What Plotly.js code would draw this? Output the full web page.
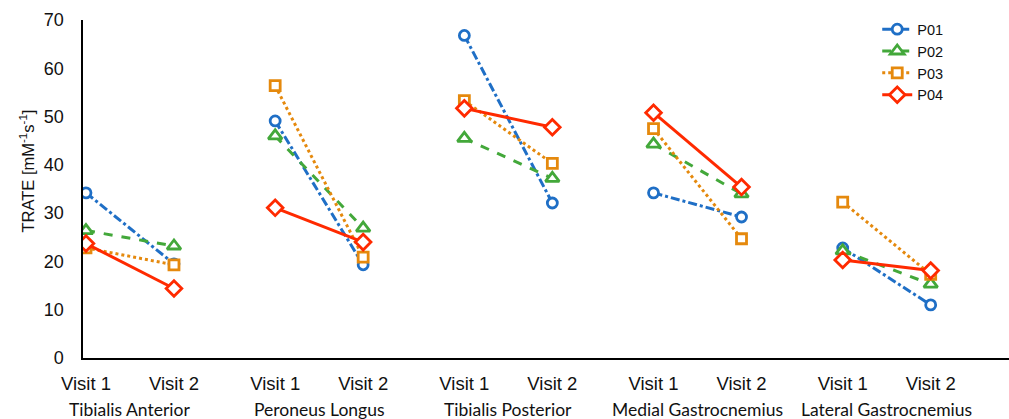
<!DOCTYPE html>
<html>
<head>
<meta charset="utf-8">
<script src="https://cdn.plot.ly/plotly-3.0.1.min.js"></script>
<style>
  html, body { margin: 0; padding: 0; background: #fff; }
  #chart { width: 1009px; height: 419px; }
</style>
</head>
<body>
<div id="chart"></div>
<script>
// Muscles and visits
const muscles = ['Tibialis Anterior', 'Peroneus Longus', 'Tibialis Posterior', 'Medial Gastrocnemius', 'Lateral Gastrocnemius'];
const visits = ['Visit 1', 'Visit 2'];
const participants = ['P01', 'P02', 'P03', 'P04'];
const yTitle = 'TRATE [mM<sup>-1</sup>s<sup>-1</sup>]';

// TRATE [mM^-1 s^-1] per muscle: [Visit 1, Visit 2]
const p01 = [[34.2, 19.5], [49.1, 19.3], [66.8, 32.1], [34.2, 29.2], [22.8, 11.0]];
const p02 = [[26.4, 23.2], [46.0, 26.9], [45.5, 37.2], [44.3, 34.0], [22.2, 15.3]];
const p03 = [[22.8, 19.3], [56.4, 20.9], [53.3, 40.3], [47.5, 24.7], [32.3, 17.3]];
const p04 = [[23.7, 14.4], [31.1, 24.0], [51.7, 47.8], [50.8, 35.4], [20.3, 18.1]];

const seriesValues = [p01, p02, p03, p04];
const colors = ['#1f6fc6', '#43a83a', '#e5890d', '#ff2a00'];
const dashes = ['dashdot', 'dash', 'dot', 'solid'];
const symbols = ['circle', 'triangle-up', 'square', 'diamond'];
const markerSizes = [10, 12, 10, 12];

// horizontal layout of the grouped visits
const groupStep = 2.15;
const xOf = (g, v) => g * groupStep + v;

const traces = seriesValues.map((vals, i) => {
  const x = [], y = [];
  vals.forEach((pair, g) => {
    pair.forEach((val, v) => { x.push(xOf(g, v)); y.push(val); });
    if (g < vals.length - 1) { x.push(null); y.push(null); }
  });
  return {
    type: 'scatter', mode: 'lines+markers', name: participants[i],
    x, y, connectgaps: false,
    line: { color: colors[i], width: 3, dash: dashes[i] },
    marker: { symbol: symbols[i], size: markerSizes[i], color: '#ffffff',
              line: { color: colors[i], width: 2.8 } }
  };
});

const tickvals = [], ticktext = [];
muscles.forEach((m, g) => visits.forEach((v, k) => { tickvals.push(xOf(g, k)); ticktext.push(v); }));

const annotations = muscles.map((m, g) => ({
  text: m, xref: 'x', yref: 'paper', x: xOf(g, 0.5), y: -0.151,
  xanchor: 'center', yanchor: 'middle', showarrow: false,
  font: { family: 'Lato, sans-serif', size: 17.5, color: '#111' }
}));
annotations.push({
  text: yTitle, xref: 'paper', yref: 'paper', x: -0.06, y: 0.553,
  xanchor: 'center', yanchor: 'middle', textangle: -90, showarrow: false,
  font: { size: 16.5, color: '#111' }
});

const layout = {
  width: 1009, height: 419,
  margin: { l: 83, r: 0, t: 20, b: 61 },
  paper_bgcolor: '#fff', plot_bgcolor: '#fff',
  font: { family: '"Liberation Sans", Arial, sans-serif', color: '#111' },
  showlegend: true,
  legend: {
    x: 0.8577, y: 1.02, xanchor: 'left', yanchor: 'top',
    bgcolor: 'rgba(0,0,0,0)', font: { size: 14.5, color: '#111' },
    tracegroupgap: 0, itemwidth: 30
  },
  xaxis: {
    range: [-0.034, 10.49], showgrid: false, zeroline: false,
    showline: true, linecolor: '#000', linewidth: 1.6,
    tickmode: 'array', tickvals, ticktext, ticks: '',
    tickfont: { size: 18.5, color: '#111' }, ticklabelstandoff: 8
  },
  yaxis: {
    range: [0, 70], dtick: 10, showgrid: false, zeroline: false,
    showline: true, linecolor: '#000', linewidth: 1.6, ticks: '',
    tickfont: { size: 18, color: '#111' }, ticklabelstandoff: 14
  },
  annotations
};

Plotly.newPlot('chart', traces, layout, { displayModeBar: false, staticPlot: true });
</script>
</body>
</html>
